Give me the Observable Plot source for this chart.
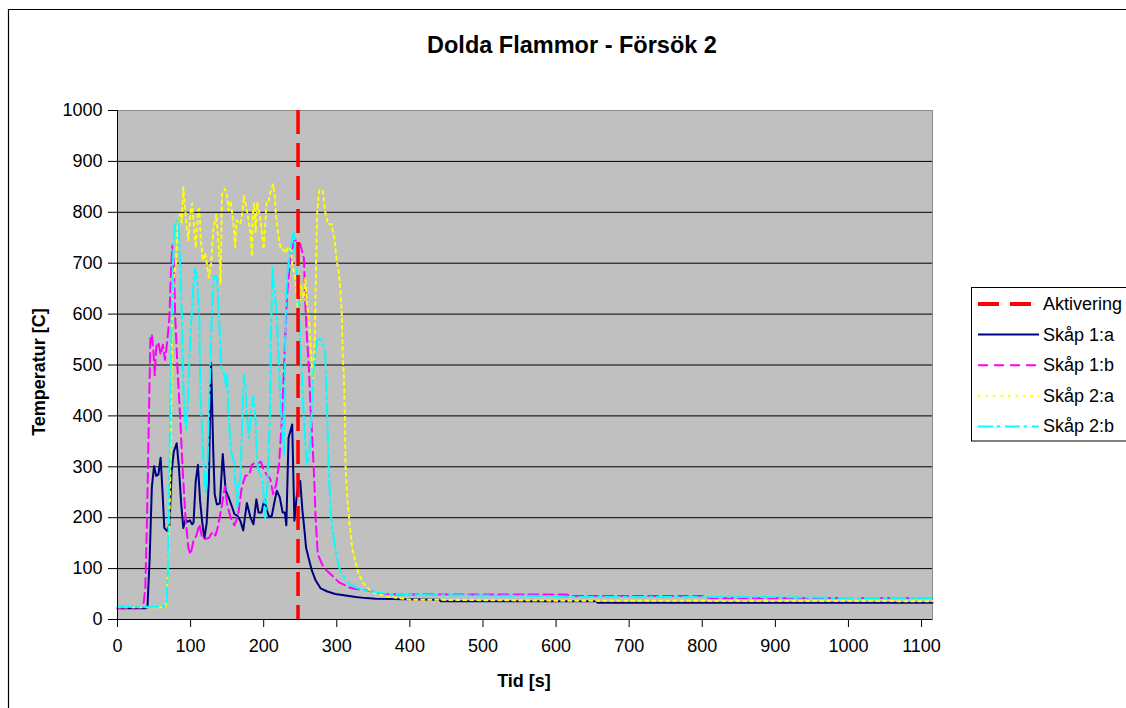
<!DOCTYPE html>
<html>
<head>
<meta charset="utf-8">
<script src="https://cdn.jsdelivr.net/npm/d3@7"></script>
<script src="https://cdn.jsdelivr.net/npm/@observablehq/plot@0.6"></script>
<style>
  html, body { margin: 0; padding: 0; background: #ffffff; }
  svg { display: block; }
</style>
</head>
<body>
<div id="chart"></div>
<script>
// ---- Data ----
const titleText = "Dolda Flammor - Försök 2";
const xLabel = "Tid [s]";
const yLabel = "Temperatur [C]";
const seriesNames = ["Aktivering", "Skåp 1:a", "Skåp 1:b", "Skåp 2:a", "Skåp 2:b"];
const seriesColors = ["#ff0000", "#000080", "#ff00ff", "#ffff00", "#00ffff"];
const xTicks = [0, 100, 200, 300, 400, 500, 600, 700, 800, 900, 1000, 1100];
const yTicks = [0, 100, 200, 300, 400, 500, 600, 700, 800, 900, 1000];
const activationTime = 247;

// [time (s), temperature (C)]
const skap1a = [[0,22],[38,22],[41,24],[44,120],[47,260],[50,301],[53,282],[56,285],[59,318],[62,240],[64,180],[68,174],[71,185],[74,290],[77,330],[81,346],[84,300],[87,230],[90,180],[93,196],[96,192],[99,195],[102,187],[104,190],[107,271],[110,304],[113,233],[116,190],[119,160],[122,190],[125,272],[128,505],[131,330],[133,246],[136,226],[140,228],[144,325],[148,253],[152,240],[157,220],[160,207],[164,204],[168,194],[172,175],[177,229],[182,200],[186,187],[190,236],[193,210],[197,210],[201,236],[204,216],[207,203],[211,203],[215,233],[218,253],[222,240],[226,210],[229,210],[231,185],[234,357],[239,383],[242,194],[245,240],[248,270],[250,272],[253,214],[255,187],[258,141],[262,118],[266,96],[271,77],[278,61],[287,55],[298,50],[312,47],[326,44],[340,42],[353,41],[440,39],[442,36],[655,36],[657,33],[1115,33]];

const skap1b = [[0,23],[35,24],[38,60],[40,170],[43,400],[45,555],[47,560],[49,530],[51,480],[53,535],[56,545],[59,520],[62,540],[65,510],[68,545],[71,594],[73,680],[75,735],[77,700],[79,594],[82,495],[86,390],[89,299],[93,200],[97,140],[100,128],[104,155],[108,165],[112,187],[116,160],[120,158],[125,160],[130,172],[134,165],[137,180],[143,226],[147,262],[150,225],[155,200],[160,185],[165,205],[170,260],[175,283],[180,283],[184,304],[187,307],[191,306],[196,310],[200,294],[204,285],[209,276],[213,246],[217,265],[221,304],[225,396],[228,501],[230,573],[232,638],[236,704],[241,743],[246,746],[250,737],[255,710],[257,620],[259,560],[262,490],[264,417],[266,370],[269,280],[271,200],[274,128],[282,102],[296,83],[303,73],[317,63],[326,60],[343,57],[360,50],[400,49],[615,49],[620,46],[800,46],[810,42],[1115,42]];

const skap2a = [[0,24],[66,24],[68,70],[70,140],[72,260],[74,450],[75,630],[77,675],[80,700],[83,790],[86,796],[88,780],[90,849],[92,817],[94,784],[97,745],[100,800],[102,817],[105,766],[107,730],[110,804],[112,807],[114,744],[117,705],[120,720],[125,672],[128,698],[131,764],[135,796],[138,744],[140,698],[141,659],[143,836],[147,846],[150,830],[152,804],[155,823],[159,771],[161,732],[163,784],[168,777],[171,800],[173,833],[178,796],[182,758],[184,713],[185,796],[187,817],[189,760],[191,820],[195,791],[198,756],[200,727],[204,823],[207,823],[209,839],[213,855],[215,835],[217,791],[221,745],[224,727],[227,727],[230,720],[233,732],[237,727],[239,698],[243,672],[246,626],[248,581],[250,659],[255,632],[257,672],[259,620],[262,594],[264,542],[266,500],[268,470],[270,560],[272,720],[273,796],[276,843],[281,843],[284,802],[288,777],[293,777],[297,745],[300,705],[303,679],[305,646],[307,594],[308,529],[310,463],[311,398],[312,300],[314,247],[317,195],[321,142],[326,110],[330,90],[337,70],[345,57],[353,51],[370,45],[400,39],[600,37],[1115,36]];

const skap2b = [[0,25],[64,25],[67,30],[69,100],[71,300],[73,500],[75,650],[77,751],[79,777],[82,786],[84,770],[86,685],[88,594],[90,462],[92,396],[94,370],[96,420],[98,500],[100,560],[103,640],[106,690],[108,680],[110,640],[112,594],[113,462],[115,396],[117,331],[119,265],[121,250],[123,300],[126,450],[129,600],[132,675],[136,675],[139,590],[142,495],[145,488],[147,475],[149,455],[150,481],[152,404],[155,332],[159,312],[161,273],[164,221],[166,268],[168,273],[169,312],[171,410],[173,481],[175,462],[177,396],[180,357],[182,404],[184,423],[186,440],[187,423],[189,390],[190,337],[192,298],[195,285],[198,278],[200,245],[202,199],[205,265],[207,330],[209,430],[210,561],[212,692],[213,673],[215,640],[218,600],[219,555],[221,501],[222,449],[224,410],[225,378],[227,344],[228,325],[229,462],[230,594],[232,673],[236,725],[239,745],[241,762],[243,725],[246,673],[248,647],[250,529],[253,462],[255,396],[257,344],[259,305],[262,315],[264,364],[266,416],[268,488],[271,526],[273,548],[278,551],[281,545],[284,526],[285,481],[287,398],[289,292],[291,233],[293,187],[296,161],[299,129],[303,103],[307,90],[312,80],[317,70],[326,63],[339,57],[353,54],[370,50],[420,48],[600,46],[610,44],[900,44],[1000,42],[1115,42]];

// ---- Build tables ----
const toRows = (arr) => arr.map(([t, v]) => ({t, v}));
const styles = {
  "Skåp 1:a": {data: skap1a, color: seriesColors[1], dash: null},
  "Skåp 1:b": {data: skap1b, color: seriesColors[2], dash: "10,5"},
  "Skåp 2:a": {data: skap2a, color: seriesColors[3], dash: "3,4"},
  "Skåp 2:b": {data: skap2b, color: seriesColors[4], dash: "15,4,3,4"}
};
const aktDash = "24,9";

const font = "'Liberation Sans', Arial, sans-serif";

const lineMarks = Object.entries(styles).map(([name, s]) =>
  Plot.line(toRows(s.data), {
    x: "t", y: "v", stroke: s.color, strokeWidth: 2,
    strokeDasharray: s.dash || undefined, strokeLinejoin: "round", curve: "linear"
  })
);

const chart = Plot.plot({
  width: 1126,
  height: 708,
  marginLeft: 117,
  marginRight: 194,
  marginTop: 110,
  marginBottom: 89,
  style: {fontFamily: font, fontSize: "18px", color: "#000", background: "#fff", overflow: "visible"},
  x: {domain: [0, 1115]},
  y: {domain: [0, 1000]},
  marks: [
    Plot.frame({fill: "#c0c0c0", stroke: "#8c8c8c"}),
    Plot.gridY(yTicks.filter(d => d > 0 && d < 1000), {stroke: "#000", strokeOpacity: 1, strokeWidth: 1}),
    ...lineMarks,
    Plot.ruleX([activationTime], {stroke: seriesColors[0], strokeWidth: 3.5, strokeDasharray: aktDash}),
    Plot.ruleX([0], {stroke: "#000", strokeWidth: 1}),
    Plot.ruleY([0], {stroke: "#000", strokeWidth: 1}),
    Plot.axisX(xTicks, {tickSize: 8, tickPadding: 12, stroke: "#000", label: null, fontSize: 18, tickFormat: d => String(d)}),
    Plot.axisY(yTicks, {tickSize: 9, tickPadding: 6, stroke: "#000", label: null, fontSize: 18, tickFormat: d => String(d)})
  ]
});

document.getElementById("chart").appendChild(chart);

// ---- Decorations: border, title, axis titles, legend ----
const svg = d3.select(chart);

svg.append("path")
  .attr("d", "M8.5,708 L8.5,9.5 L1126,9.5")
  .attr("fill", "none").attr("stroke", "#000").attr("stroke-width", 1.2);

svg.append("text")
  .attr("x", 572).attr("y", 45)
  .attr("text-anchor", "middle").attr("dominant-baseline", "central")
  .attr("font-family", font).attr("font-weight", "bold").attr("font-size", 23.5)
  .text(titleText);

svg.append("text")
  .attr("x", 524).attr("y", 681)
  .attr("text-anchor", "middle").attr("dominant-baseline", "central")
  .attr("font-family", font).attr("font-weight", "bold").attr("font-size", 18)
  .text(xLabel);

svg.append("text")
  .attr("transform", "translate(39,372) rotate(-90)")
  .attr("text-anchor", "middle").attr("dominant-baseline", "central")
  .attr("font-family", font).attr("font-weight", "bold").attr("font-size", 18)
  .text(yLabel);

const lg = svg.append("g");
lg.append("rect")
  .attr("x", 971.5).attr("y", 287.5).attr("width", 200).attr("height", 153.5)
  .attr("fill", "#fff").attr("stroke", "#000").attr("stroke-width", 1);
const legendItems = [
  {name: seriesNames[0], color: seriesColors[0], dash: "21,11", width: 4},
  {name: seriesNames[1], color: seriesColors[1], dash: null, width: 2},
  {name: seriesNames[2], color: seriesColors[2], dash: "10,6", width: 2},
  {name: seriesNames[3], color: seriesColors[3], dash: "2.5,5", width: 2},
  {name: seriesNames[4], color: seriesColors[4], dash: "15,3.5,3.5,5", width: 2}
];
legendItems.forEach((d, i) => {
  const cy = 304 + i * 30.6;
  lg.append("line")
    .attr("x1", 978).attr("x2", 1039).attr("y1", cy).attr("y2", cy)
    .attr("stroke", d.color).attr("stroke-width", d.width)
    .attr("stroke-dasharray", d.dash);
  lg.append("text")
    .attr("x", 1043).attr("y", cy)
    .attr("text-anchor", "start")
    .attr("dominant-baseline", "central")
    .attr("font-family", font).attr("font-size", 18)
    .text(d.name);
});
</script>
</body>
</html>
